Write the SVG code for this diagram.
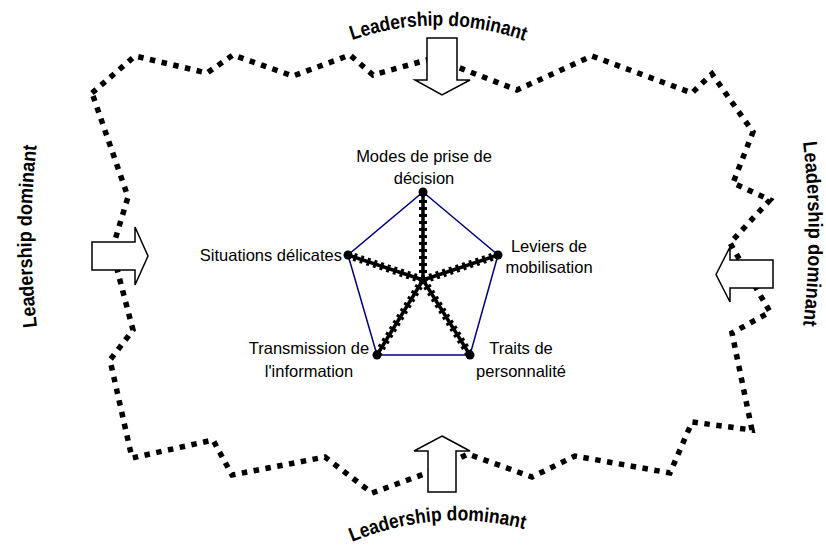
<svg xmlns="http://www.w3.org/2000/svg" width="826" height="548" viewBox="0 0 826 548">
<style>
.lbl{font-family:"Liberation Sans",Arial,sans-serif;font-size:16.5px;fill:#000}
.wa{font-family:"Liberation Sans",Arial,sans-serif;font-size:20px;font-weight:bold;fill:#000}
.dots{fill:none;stroke:#000;stroke-width:5.5;stroke-dasharray:5.5 6.5}
.arrow{fill:#fff;stroke:#000;stroke-width:1.5;stroke-linejoin:miter}
.spoke{stroke:#000;stroke-width:3.5;fill:none}
.tick{stroke:#000;stroke-width:8;stroke-dasharray:3 4;fill:none}
.pent{fill:none;stroke:#000080;stroke-width:1.5}
</style>
<defs>
<path id="arcTop" d="M352,40 Q440,10 528,42"/>
<path id="arcBot" d="M352,542 Q440,506 528,530"/>
<path id="arcLeft" d="M37,327 Q26,235 37,143"/>
<path id="arcRight" d="M803,142 Q814,235 803,327"/>
</defs>
<rect width="826" height="548" fill="#fff"/>
<g id="boundary">
<path class="dots" d="M92,93 L135,56 L207,73 L233,55 L293,76 L350,55 L373,75 L434,58 L517,90 L592,56 L692,93 L712,74 L753,132 L733,183 L770,200 L730,243 L770,312 L732,333 L752,430 L692,422 L670,473 L575,456 L532,477 L468,454 L427,473 L372,493 L325,457 L232,475 L213,440 L132,458 L110,360 L133,330 L112,250 L128,197 Z"/>
</g>
<g id="connectors">
<path class="pent" d="M423,192 L498,255 L470,355 L377,355 L348,255 Z"/>
<path class="spoke" d="M423,280 L423,192 M423,280 L498,255 M423,280 L470,355 M423,280 L377,355 M423,280 L348,255"/>
<path class="tick" d="M423,280 L423,192 M423,280 L498,255 M423,280 L470,355 M423,280 L377,355 M423,280 L348,255"/>
</g>
<g id="arrow-top"><polygon class="arrow" points="427,38 457,38 457,80 470,80 442,95 415,80 427,80"/></g>
<g id="arrow-bottom"><polygon class="arrow" points="442,436 470,451 456,451 456,492 428,492 428,451 414,451"/></g>
<g id="arrow-left"><polygon class="arrow" points="92,242 135,242 135,227 148,256 135,285 135,270 92,270"/></g>
<g id="arrow-right"><polygon class="arrow" points="716,274.5 730,247 730,260 773,260 773,288 730,288 730,302"/></g>
<g id="lead-top"><text class="wa"><textPath href="#arcTop" textLength="176" lengthAdjust="spacingAndGlyphs">Leadership dominant</textPath></text></g>
<g id="lead-bottom"><text class="wa"><textPath href="#arcBot" textLength="176" lengthAdjust="spacingAndGlyphs">Leadership dominant</textPath></text></g>
<g id="lead-left"><text class="wa"><textPath href="#arcLeft" textLength="182" lengthAdjust="spacingAndGlyphs">Leadership dominant</textPath></text></g>
<g id="lead-right"><text class="wa"><textPath href="#arcRight" textLength="184" lengthAdjust="spacingAndGlyphs">Leadership dominant</textPath></text></g>
<g id="node-modes">
<circle cx="423" cy="192" r="4.5"/>
<text class="lbl" x="424" y="162" text-anchor="middle">Modes de prise de</text>
<text class="lbl" x="424" y="184" text-anchor="middle">décision</text>
</g>
<g id="node-leviers">
<circle cx="498" cy="255" r="4.5"/>
<text class="lbl" x="549" y="252" text-anchor="middle">Leviers de</text>
<text class="lbl" x="549" y="273" text-anchor="middle">mobilisation</text>
</g>
<g id="node-traits">
<circle cx="470" cy="355" r="4.5"/>
<text class="lbl" x="521" y="354" text-anchor="middle">Traits de</text>
<text class="lbl" x="521" y="377" text-anchor="middle">personnalité</text>
</g>
<g id="node-transmission">
<circle cx="377" cy="355" r="4.5"/>
<text class="lbl" x="309" y="354" text-anchor="middle">Transmission de</text>
<text class="lbl" x="309" y="377" text-anchor="middle">l'information</text>
</g>
<g id="node-situations">
<circle cx="348" cy="255" r="4.5"/>
<text class="lbl" x="342" y="261" text-anchor="end">Situations délicates</text>
</g>
<g id="center"><circle cx="423" cy="280" r="3"/></g>
</svg>
